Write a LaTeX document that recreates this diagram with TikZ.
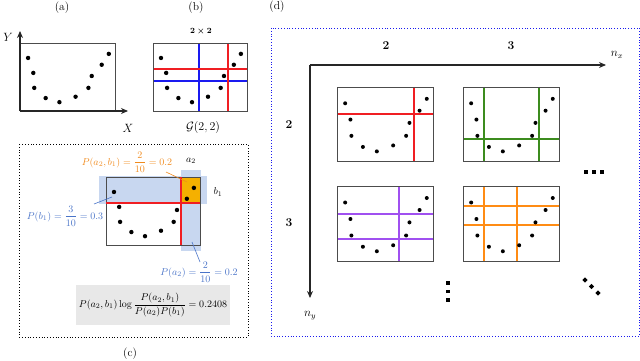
\documentclass[tikz,border=0pt]{standalone}
\usepackage{amsmath,amssymb}
\usetikzlibrary{arrows.meta}
\definecolor{gridred}{HTML}{F01E23}
\definecolor{gridblue}{HTML}{1A1AF0}
\definecolor{gridgreen}{HTML}{3C8C1E}
\definecolor{gridpurple}{HTML}{A050F0}
\definecolor{gridorange}{HTML}{FF8C14}
\definecolor{labor}{HTML}{F08A1C}
\definecolor{labblue}{HTML}{4A74C8}
\definecolor{bandblue}{HTML}{C8D7F0}
\definecolor{cellorange}{HTML}{F5B000}
\definecolor{boxgray}{HTML}{E8E8E8}
\newcommand{\scat}[5]{%
  \foreach \u/\v in {0.085/0.22,0.14/0.44,0.15/0.66,0.27/0.81,0.415/0.87,0.585/0.79,0.72/0.66,0.755/0.485,0.86/0.32,0.935/0.16}
  {\fill ({#1+\u*#3},{#2+\v*#4}) circle[radius=#5];}}
\tikzset{
  plotbox/.style={draw=black!70, line width=0.8pt},
  axisline/.style={draw=black!85, line width=1.2pt, -{Stealth[length=7pt,width=6pt]}},
  gline/.style={line width=1.3pt},
  leader/.style={line width=0.6pt},
  lab/.style={inner sep=1pt, font=\fontsize{11.5}{13}\selectfont},
  plab/.style={inner sep=1pt},
  sq/.style={fill=black, minimum size=3.6pt, inner sep=0pt}
}
\begin{document}
\begin{tikzpicture}[x=1pt,y=-1pt]
\useasboundingbox (0,0) rectangle (640,361);
% ---------- (a)
\node[lab] (la) at (62,8) {(a)};
\node[lab] (Y) at (8,37) {$Y$};
\node[lab] (X) at (128,128) {$X$};
\draw[plotbox] (20,43) rectangle (115,111);
\coordinate (aO) at (20,111);
\coordinate (aYend) at (20,31);
\coordinate (aXend) at (128,111);
\draw[axisline] (aO) -- (aYend);
\draw[axisline] (aO) -- (aXend);
\scat{20}{43}{95}{68}{2.2pt}
% ---------- (b)
\node[lab] (lb) at (196,8) {(b)};
\node[inner sep=1pt] (bt) at (201,32) {\footnotesize$\boldsymbol{2\times 2}$};
\node[lab] (G) at (203,127) {$\mathcal{G}(2,2)$};
\draw[gridblue,gline] (199,43) -- (199,111);
\draw[gridblue,gline] (153,81) -- (247,81);
\draw[gridred,gline] (228,43) -- (228,111);
\draw[gridred,gline] (153,69) -- (247,69);
\draw[plotbox] (153,43) rectangle (247,111);
\scat{153}{43}{94}{68}{2.2pt}
% ---------- (c)
\draw[dotted, line width=0.8pt] (19,144) rectangle (248,337);
\node[lab] (lc) at (130,354) {(c)};
\fill[bandblue] (99,176) rectangle (207,204);
\fill[bandblue] (181,170) rectangle (201,251);
\fill[cellorange] (181,177) rectangle (200,203);
\draw[plotbox] (106,177) rectangle (200,245);
\draw[gridred,gline] (181,177) -- (181,245);
\draw[gridred,gline] (106,203) -- (200,203);
\scat{106}{177}{94}{68}{2.2pt}
\node[inner sep=1pt] (a2) at (191,161) {$a_2$};
\node[inner sep=1pt] (b1) at (218,192) {$b_1$};
\node[plab, text=labor] (pab) at (127,162) {$P(a_2,b_1)=\dfrac{2}{10}=0.2$};
\node[plab, text=labblue] (pb) at (65,216) {$P(b_1)=\dfrac{3}{10}=0.3$};
\node[plab, text=labblue] (pa) at (199,272) {$P(a_2)=\dfrac{2}{10}=0.2$};
\coordinate (pabEnd) at (187,182);
\coordinate (pbEnd) at (112,197);
\coordinate (paEnd) at (192,242);
\draw[leader, labor] (166,172) -- (pabEnd);
\draw[leader, labblue] (94,204) -- (pbEnd);
\draw[leader, labblue] (200,262) -- (paEnd);
\node[fill=boxgray, minimum width=152pt, minimum height=40pt] (mi) at (153,305)
  {$P(a_2,b_1)\log\dfrac{P(a_2,b_1)}{P(a_2)P(b_1)}=0.2408$};
% ---------- (d)
\node[lab] (ld) at (277,7) {(d)};
\draw[gridblue, dotted, line width=0.8pt] (271,28) rectangle (639,336);
\coordinate (dO) at (310,65);
\coordinate (dXend) at (606,65);
\coordinate (dYend) at (310,298);
\draw[axisline] (dO) -- (dXend);
\draw[axisline] (dO) -- (dYend);
\node[lab] (nx) at (617,55) {$n_x$};
\node[lab] (ny) at (310,316) {$n_y$};
\node[lab] (c2) at (386,46) {$\boldsymbol{2}$};
\node[lab] (c3) at (511,46) {$\boldsymbol{3}$};
\node[lab] (r2) at (289,125) {$\boldsymbol{2}$};
\node[lab] (r3) at (289,223) {$\boldsymbol{3}$};
% grid 2x2
\draw[gridred,gline] (414,87) -- (414,161);
\draw[gridred,gline] (337,114) -- (433,114);
\draw[plotbox] (337,87) rectangle (433,161);
\scat{337}{87}{96}{74}{2pt}
% grid 3x2
\draw[gridgreen,gline] (484,87) -- (484,161);
\draw[gridgreen,gline] (539,87) -- (539,161);
\draw[gridgreen,gline] (463,139) -- (559,139);
\draw[plotbox] (463,87) rectangle (559,161);
\scat{463}{87}{96}{74}{2pt}
% grid 2x3
\draw[gridpurple,gline] (399,186) -- (399,261);
\draw[gridpurple,gline] (337,214) -- (433,214);
\draw[gridpurple,gline] (337,239) -- (433,239);
\draw[plotbox] (337,186) rectangle (433,261);
\scat{337}{186}{96}{75}{2pt}
% grid 3x3
\draw[gridorange,gline] (484,186) -- (484,261);
\draw[gridorange,gline] (517,186) -- (517,261);
\draw[gridorange,gline] (463,206) -- (559,206);
\draw[gridorange,gline] (463,225) -- (559,225);
\draw[plotbox] (463,186) rectangle (559,261);
\scat{463}{186}{96}{75}{2pt}
% ellipses
\foreach \k in {0,1,2} {
  \node[sq] (h\k) at ({586+\k*8},172) {};
  \node[sq] (v\k) at (448,{283+\k*8.5}) {};
  \node[sq, rotate=45] (g\k) at ({585+\k*6.5},{280+\k*6.5}) {};
}
\end{tikzpicture}
\end{document}
